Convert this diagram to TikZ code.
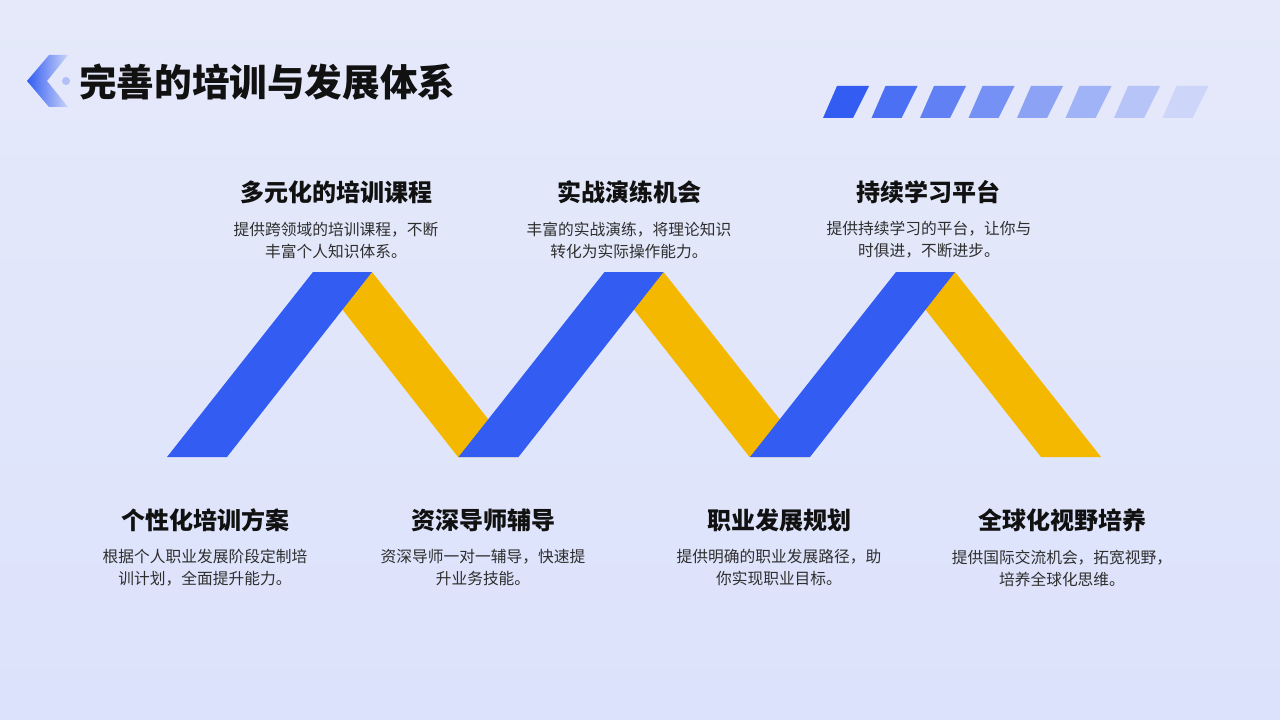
\documentclass[tikz,border=0pt]{standalone}
\usepackage{fontspec}
\setmainfont{Noto Sans CJK SC}
\usetikzlibrary{shapes.geometric}
\definecolor{zblue}{HTML}{335DF2}
\definecolor{zyellow}{HTML}{F5B800}
\definecolor{bgtop}{HTML}{E5E9FA}
\definecolor{bgbot}{HTML}{DCE2FB}
\definecolor{ttext}{HTML}{111111}
\definecolor{dtext}{HTML}{2E2E2E}
\tikzset{
  heading/.style={font=\fontsize{18}{22}\selectfont\bfseries, text=ttext, inner sep=0pt},
  desc/.style={font=\fontsize{11.8}{16.5}\selectfont, text=dtext, align=center, inner sep=0pt},
  bluebar/.style={fill=zblue, draw=none},
  yellowbar/.style={fill=zyellow, draw=none},
}
\begin{document}
\begin{tikzpicture}[x=0.75pt,y=-0.75pt]
\useasboundingbox (0,0) rectangle (1280,720);
\shade[top color=bgtop, bottom color=bgbot] (0,0) rectangle (1280,720);

% chevron + dot
\shade[left color=zblue, right color=zblue!15!bgtop]
  (27,81) -- (49,55) -- (68,55) -- (47,81) -- (68,107) -- (49,107) -- cycle;
\fill[color=zblue!30!bgtop] (66,81) circle (4);

% title
\node[anchor=west, inner sep=0pt, font=\fontsize{28.2}{32}\selectfont\bfseries, text=ttext] (title) at (79,82) {完善的培训与发展体系};

% stripes
\foreach \i/\op in {0/1,1/0.86,2/0.74,3/0.62,4/0.5,5/0.38,6/0.26,7/0.13} {
  \fill[zblue, fill opacity=\op]
    ({823+48.5*\i},118) -- ({853+48.5*\i},118) -- ({869+48.5*\i},86) -- ({837+48.5*\i},86) -- cycle;
}

% zigzag: yellows first, blues on top
\foreach \k in {0,1,2} {
  \fill[yellowbar] ({313+291.5*\k},272) -- ({372+291.5*\k},272) -- ({518+291.5*\k},457) -- ({458+291.5*\k},457) -- cycle;
}
\foreach \k in {0,1,2} {
  \fill[bluebar] ({167+291.5*\k},457) -- ({227+291.5*\k},457) -- ({372+291.5*\k},272) -- ({313+291.5*\k},272) -- cycle;
}

% top items
\node[heading] (h1) at (336,192) {多元化的培训课程};
\node[desc] (d1) at (336,240) {提供跨领域的培训课程，不断\\丰富个人知识体系。};
\node[heading] (h2) at (629,192) {实战演练机会};
\node[desc] (d2) at (629,240) {丰富的实战演练，将理论知识\\转化为实际操作能力。};
\node[heading] (h3) at (928,192) {持续学习平台};
\node[desc] (d3) at (929,240) {提供持续学习的平台，让你与\\时俱进，不断进步。};

% bottom items
\node[heading] (h4) at (205,520) {个性化培训方案};
\node[desc] (d4) at (205,568) {根据个人职业发展阶段定制培\\训计划，全面提升能力。};
\node[heading] (h5) at (483,520) {资深导师辅导};
\node[desc] (d5) at (483,568) {资深导师一对一辅导，快速提\\升业务技能。};
\node[heading] (h6) at (779,520) {职业发展规划};
\node[desc] (d6) at (779,568) {提供明确的职业发展路径，助\\你实现职业目标。};
\node[heading] (h7) at (1062,520) {全球化视野培养};
\node[desc] (d7) at (1062,568) {提供国际交流机会，拓宽视野，\\培养全球化思维。};
\end{tikzpicture}
\end{document}
